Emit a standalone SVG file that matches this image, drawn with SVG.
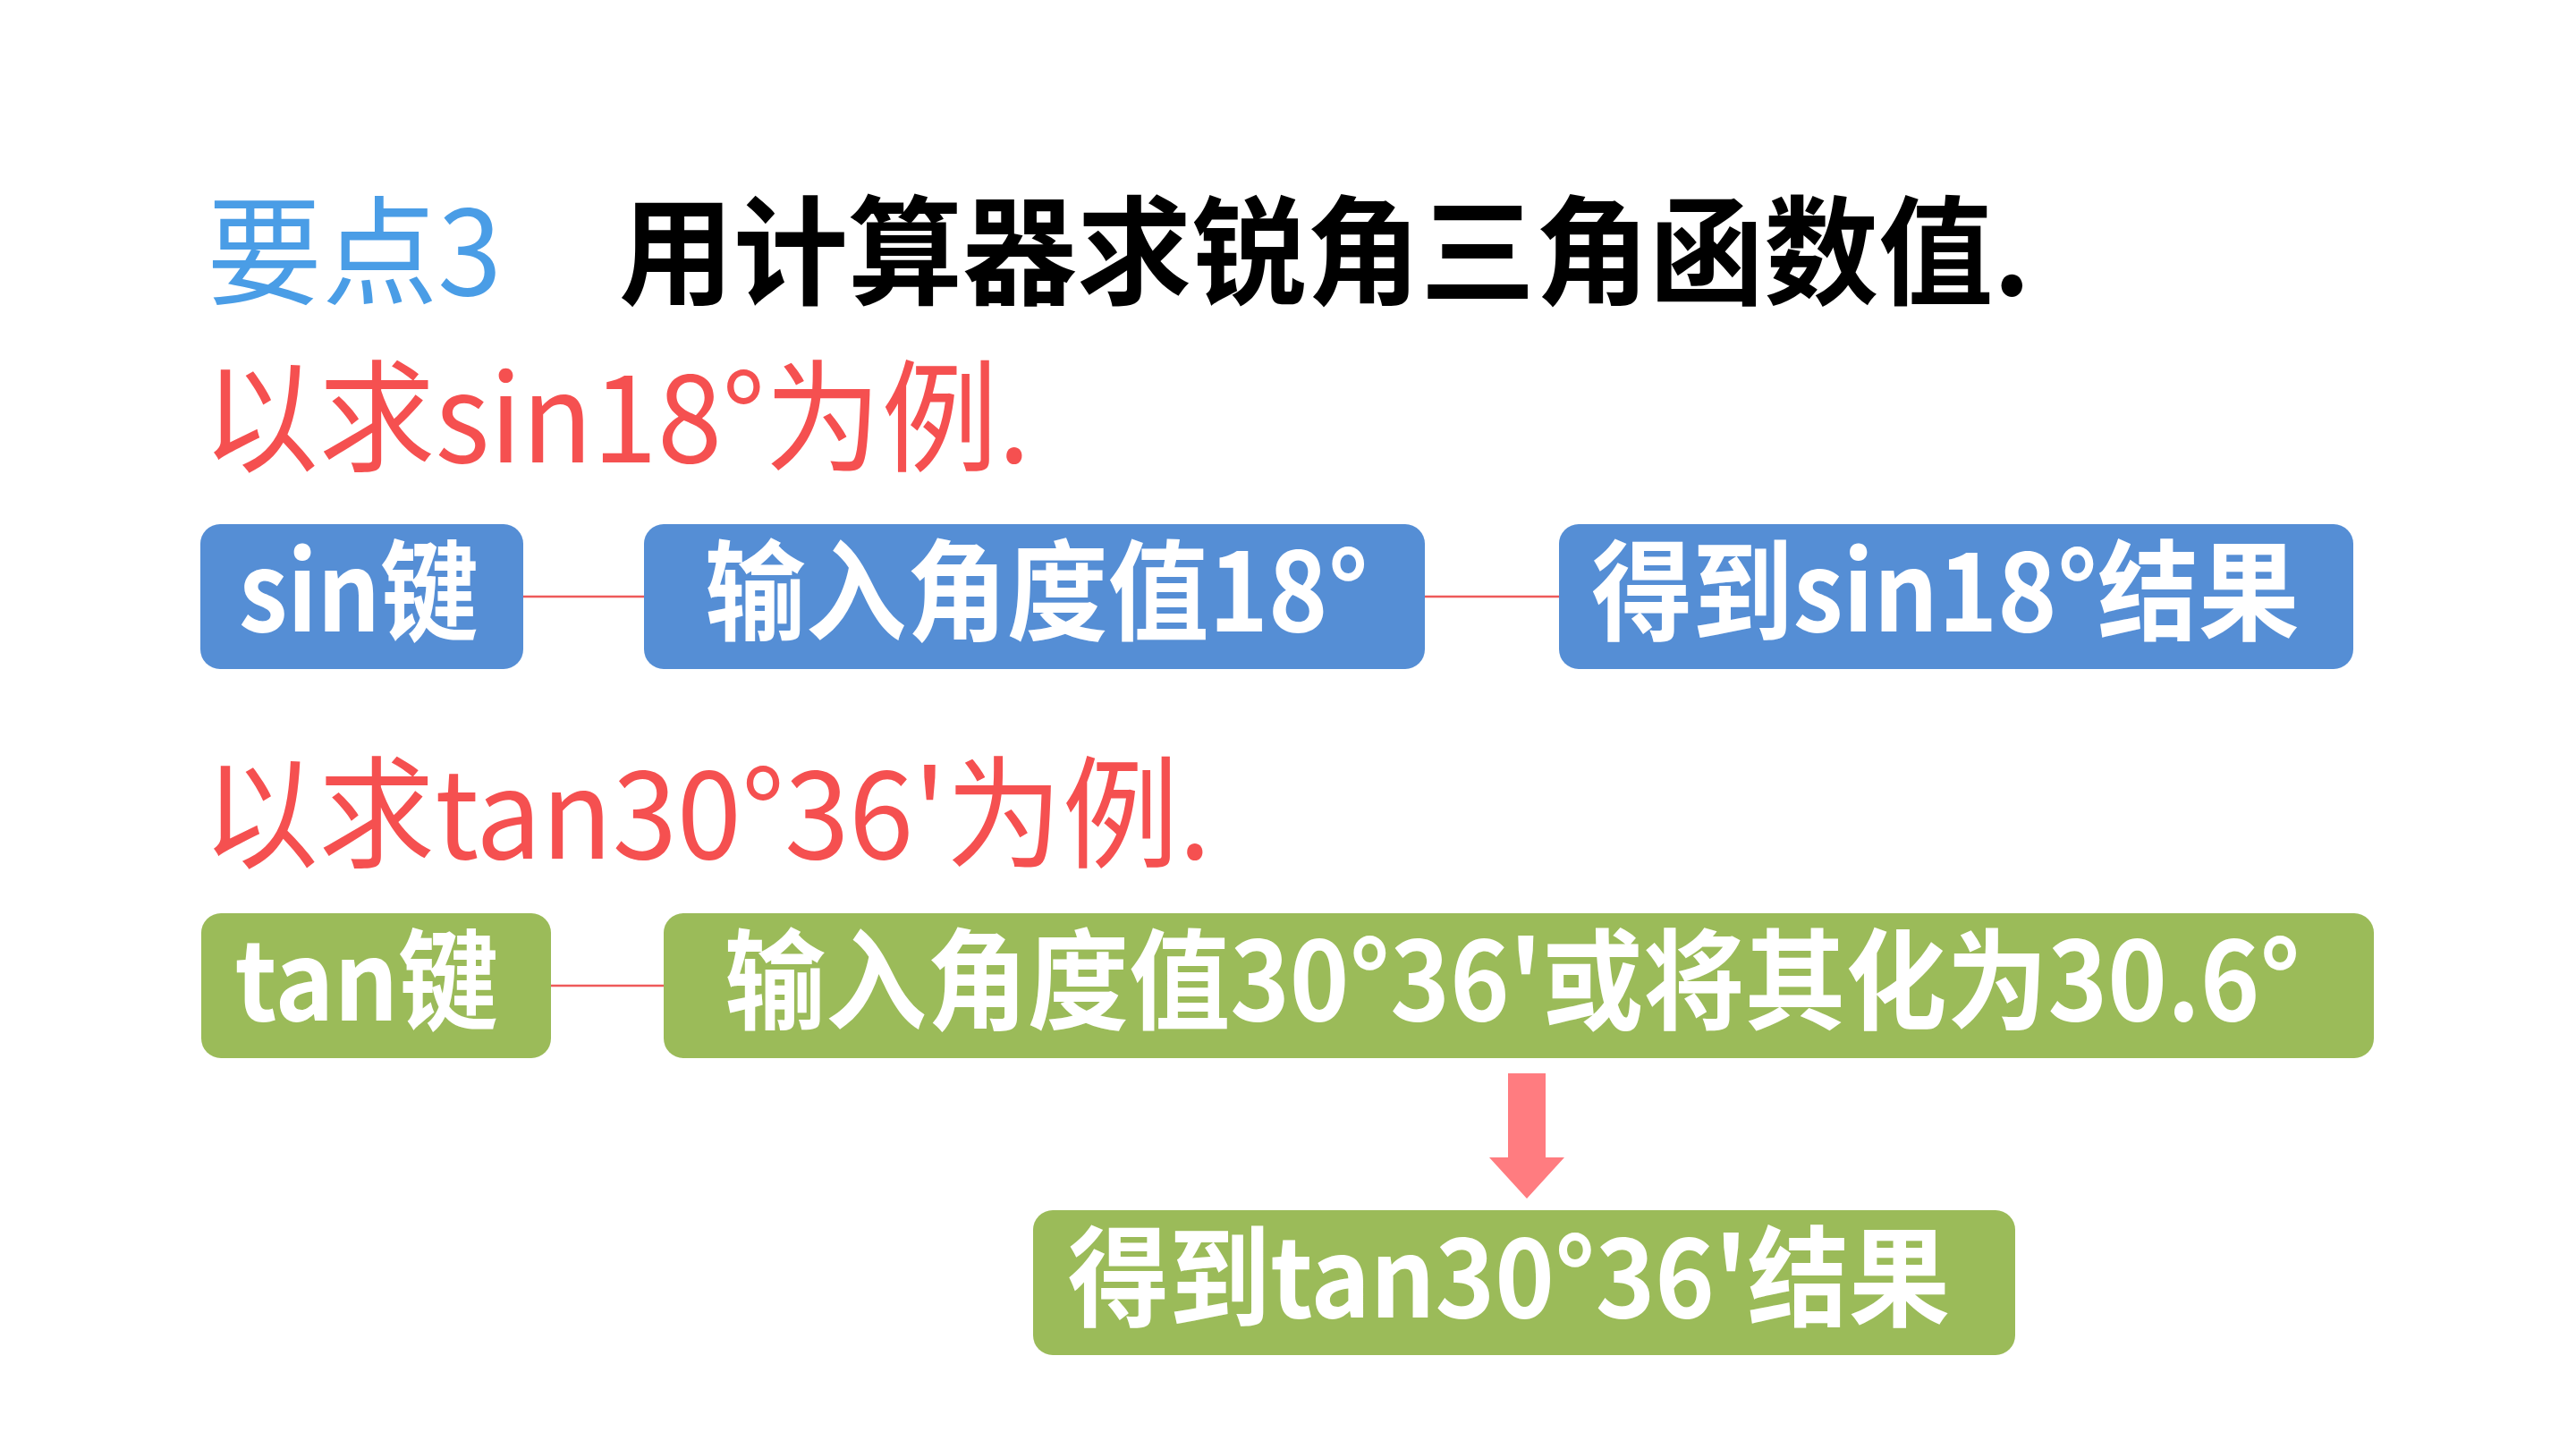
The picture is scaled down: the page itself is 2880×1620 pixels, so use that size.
<svg xmlns="http://www.w3.org/2000/svg" width="2880" height="1620" viewBox="0 0 2880 1620">
  <defs>
    <style>
      text { font-family: "Noto Sans CJK SC", "Noto Sans", sans-serif; }
      .key { font-size: 132px; fill: #4A9DE6; }
      .title { font-size: 132px; font-weight: 700; fill: #000000; }
      .example { font-size: 136px; fill: #F55050; }
      .label { font-size: 122px; font-weight: 700; fill: #FFFFFF; text-anchor: middle; }
      .blue { fill: #558ED5; }
      .green { fill: #9BBB59; }
      .link { stroke: #EE5A5A; stroke-width: 2.5; fill: none; }
    </style>
  </defs>

  <rect width="2880" height="1620" fill="#FFFFFF"/>

  <!-- headings -->
  <g id="heading">
    <text class="key" x="231" y="330" textLength="330" lengthAdjust="spacingAndGlyphs">要点3</text>
    <text class="title" x="692" y="330" textLength="1578" lengthAdjust="spacingAndGlyphs">用计算器求锐角三角函数值.</text>
  </g>
  <g id="example-sin">
    <text class="example" x="226" y="517" textLength="926" lengthAdjust="spacingAndGlyphs">以求sin18°为例.</text>
  </g>
  <g id="example-tan">
    <text class="example" x="226" y="960" textLength="1128" lengthAdjust="spacingAndGlyphs">以求tan30°36'为例.</text>
  </g>

  <!-- connectors -->
  <g id="connectors">
    <line class="link" x1="585" y1="667" x2="720" y2="667"/>
    <line class="link" x1="1593" y1="667" x2="1743" y2="667"/>
    <line class="link" x1="616" y1="1102" x2="742" y2="1102"/>
    <path d="M1686 1200 H1728 V1294 H1749 L1707 1340 L1665 1294 H1686 Z" fill="#FF7C80"/>
  </g>

  <!-- sin row -->
  <g id="node-sin-key">
    <rect class="blue" x="224" y="586" width="361" height="162" rx="22"/>
    <text class="label" x="401" y="706" textLength="268" lengthAdjust="spacingAndGlyphs">sin键</text>
  </g>
  <g id="node-sin-input">
    <rect class="blue" x="720" y="586" width="873" height="162" rx="22"/>
    <text class="label" x="1159" y="706" textLength="742" lengthAdjust="spacingAndGlyphs">输入角度值18°</text>
  </g>
  <g id="node-sin-result">
    <rect class="blue" x="1743" y="586" width="888" height="162" rx="22"/>
    <text class="label" x="2175" y="706" textLength="791" lengthAdjust="spacingAndGlyphs">得到sin18°结果</text>
  </g>

  <!-- tan row -->
  <g id="node-tan-key">
    <rect class="green" x="225" y="1021" width="391" height="162" rx="22"/>
    <text class="label" x="410" y="1141" textLength="295" lengthAdjust="spacingAndGlyphs">tan键</text>
  </g>
  <g id="node-tan-input">
    <rect class="green" x="742" y="1021" width="1912" height="162" rx="22"/>
    <text class="label" x="1691" y="1141" textLength="1762" lengthAdjust="spacingAndGlyphs">输入角度值30°36'或将其化为30.6°</text>
  </g>
  <g id="node-tan-result">
    <rect class="green" x="1155" y="1353" width="1098" height="162" rx="22"/>
    <text class="label" x="1687" y="1473" textLength="986" lengthAdjust="spacingAndGlyphs">得到tan30°36'结果</text>
  </g>
</svg>
